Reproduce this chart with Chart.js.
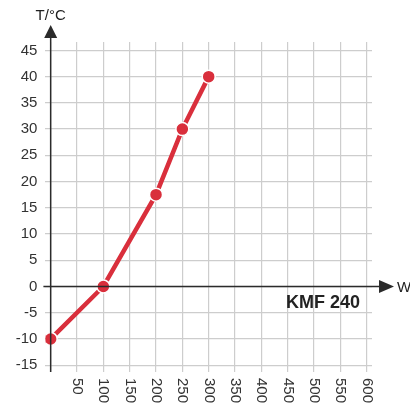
<!DOCTYPE html>
<html>
<head>
<meta charset="utf-8">
<script src="https://cdn.jsdelivr.net/npm/chart.js@4"></script>
<style>
  html, body { margin: 0; padding: 0; background: #fff; }
  #wrap { width: 410px; height: 409px; position: relative; }
</style>
</head>
<body>
<div id="wrap"><canvas id="chart"></canvas></div>
<script>
// values
const powerValues = [0, 100, 200, 250, 300];
const tempValues = [-10, 0, 17.5, 30, 40];
const xTicks = [0, 50, 100, 150, 200, 250, 300, 350, 400, 450, 500, 550, 600];
const xTickLabels = ['', '50', '100', '150', '200', '250', '300', '350', '400', '450', '500', '550', '600'];
const yTicks = [-15, -10, -5, 0, 5, 10, 15, 20, 25, 30, 35, 40, 45];
const yTickLabels = ['-15', '-10', '-5', '0', '5', '10', '15', '20', '25', '30', '35', '40', '45'];

const FONT = '"Liberation Sans", Arial, Helvetica, sans-serif';
const RED = '#d92f3c';
const GRID = '#cdcdcd';
const AXIS = '#2b2b2b';

// arrows, axis names, rotated x labels and the model name
const decorations = {
    id: 'decorations',
    afterDraw(chart) {
        const ctx = chart.ctx;
        const xs = chart.scales.x, ys = chart.scales.y;
        const area = chart.chartArea;
        const x0 = xs.getPixelForValue(0);
        const y0 = ys.getPixelForValue(0);
        ctx.save();
        ctx.strokeStyle = AXIS;
        ctx.fillStyle = AXIS;
        ctx.lineWidth = 1.5;
        // y axis
        ctx.beginPath();
        ctx.moveTo(x0, area.bottom);
        ctx.lineTo(x0, 36);
        ctx.stroke();
        ctx.beginPath();
        ctx.moveTo(x0, 25);
        ctx.lineTo(x0 - 6.5, 38);
        ctx.lineTo(x0 + 6.5, 38);
        ctx.closePath();
        ctx.fill();
        // x axis
        ctx.beginPath();
        ctx.moveTo(area.left - 2, y0);
        ctx.lineTo(381, y0);
        ctx.stroke();
        ctx.beginPath();
        ctx.moveTo(394, y0);
        ctx.lineTo(379, y0 - 6.5);
        ctx.lineTo(379, y0 + 6.5);
        ctx.closePath();
        ctx.fill();

        ctx.fillStyle = '#222';
        ctx.font = '15px ' + FONT;
        ctx.textBaseline = 'alphabetic';
        ctx.textAlign = 'center';
        ctx.fillText('T/°C', x0, 20);
        ctx.textAlign = 'left';
        ctx.fillText('W', 397, y0 + 6);

        ctx.font = 'bold 18px ' + FONT;
        ctx.textAlign = 'right';
        ctx.fillText('KMF 240', 360, 308);

        // x tick labels, turned clockwise
        ctx.fillStyle = '#333';
        ctx.font = '15px ' + FONT;
        ctx.textAlign = 'left';
        ctx.textBaseline = 'middle';
        xTicks.forEach((v, i) => {
            if (!xTickLabels[i]) return;
            ctx.save();
            ctx.translate(xs.getPixelForValue(v), 378);
            ctx.rotate(Math.PI / 2);
            ctx.fillText(xTickLabels[i], 0, 0);
            ctx.restore();
        });
        ctx.restore();
    }
};

const ctx = document.getElementById('chart').getContext('2d');
const chart = new Chart(ctx, {
    type: 'line',
    data: {
        datasets: [{
            data: powerValues.map((x, i) => ({ x: x, y: tempValues[i] })),
            borderColor: RED,
            backgroundColor: RED,
            borderWidth: 4.5,
            pointRadius: 6.5,
            pointBorderColor: '#fff',
            pointBorderWidth: 1.5,
            pointBackgroundColor: RED,
            tension: 0,
            fill: false
        }]
    },
    options: {
        responsive: true,
        maintainAspectRatio: false,
        animation: false,
        layout: { padding: { top: 42, right: 38, bottom: 37, left: 0 } },
        plugins: {
            legend: { display: false },
            tooltip: { enabled: false }
        },
        scales: {
            x: {
                type: 'linear',
                min: -10,
                max: 610,
                afterBuildTicks: s => { s.ticks = xTicks.map(v => ({ value: v })); },
                afterFit: s => { s.height = 0; },
                ticks: { display: false },
                border: { display: false },
                grid: { color: GRID, lineWidth: 1.2, drawTicks: false }
            },
            y: {
                min: -16.3,
                max: 46.6,
                afterBuildTicks: s => { s.ticks = yTicks.map(v => ({ value: v })); },
                afterFit: s => { s.width = 45.4; },
                ticks: {
                    padding: 8,
                    color: '#333',
                    font: { family: FONT, size: 15 },
                    callback: (v) => yTickLabels[yTicks.indexOf(v)]
                },
                border: { display: false },
                grid: { color: GRID, lineWidth: 1.2, drawTicks: false }
            }
        }
    },
    plugins: [decorations]
});
</script>
</body>
</html>
